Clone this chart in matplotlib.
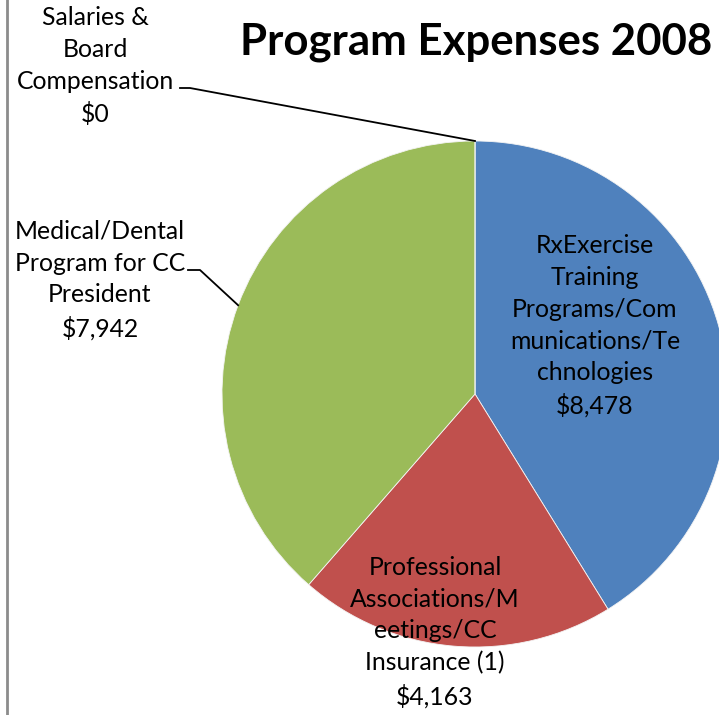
import numpy as np
import matplotlib
matplotlib.use('Agg')
import matplotlib.pyplot as plt

plt.rcParams['font.family'] = ['Lato', 'DejaVu Sans']

# data
labels = ['RxExercise\nTraining\nPrograms/Com\nmunications/Te\nchnologies',
          'Professional\nAssociations/M\neetings/CC\nInsurance (1)',
          'Medical/Dental\nProgram for CC\nPresident',
          'Salaries &\nBoard\nCompensation']
values = [8478, 4163, 7942, 0]
colors = ['#4F81BD', '#C0504D', '#9BBB59', '#8064A2']

W, H = 719, 715
fig = plt.figure(figsize=(W / 100, H / 100), dpi=100)
ax = fig.add_axes([0, 0, 1, 1])

cx, cy, r = 475, H - 394, 253
wedges, _ = ax.pie(values, colors=colors, startangle=90, counterclock=False,
                   center=(cx, cy), radius=r, frame=True,
                   wedgeprops=dict(linewidth=0.6, edgecolor='#f4f4f4'))
ax.set_xlim(0, W)
ax.set_ylim(0, H)
ax.set_aspect('equal')
ax.axis('off')

def fmt(v):
    return '${:,}'.format(v)

fs = 17.8
ls = 1.46
# inside labels
ax.text(595, H - 326, labels[0] + '\n' + fmt(values[0]), ha='center', va='center',
        fontsize=fs, linespacing=ls)
ax.text(435, H - 632, labels[1] + '\n' + fmt(values[1]), ha='center', va='center',
        fontsize=fs, linespacing=ls)

# outside labels with leader lines
def edge_point(w):
    ang = np.deg2rad((w.theta1 + w.theta2) / 2)
    return cx + r * np.cos(ang), cy + r * np.sin(ang)

ax.text(100, H - 280, labels[2] + '\n' + fmt(values[2]), ha='center', va='center',
        fontsize=fs, linespacing=ls)
px, py = edge_point(wedges[2])
ax.plot([188, 200, px], [H - 270, H - 270, py], color='black', lw=1.3)

ax.text(95, H - 66, labels[3] + '\n' + fmt(values[3]), ha='center', va='center',
        fontsize=fs, linespacing=ls)
px, py = edge_point(wedges[3])
ax.plot([180, 190, px], [H - 88, H - 88, py], color='black', lw=1.3)

ax.text(476, H - 42, 'Program Expenses 2008', ha='center', va='center',
        fontsize=31.5, fontweight='bold')

ax.axvline(7, color='#8c8c8c', lw=2)

fig.savefig('out.png', dpi=100)
